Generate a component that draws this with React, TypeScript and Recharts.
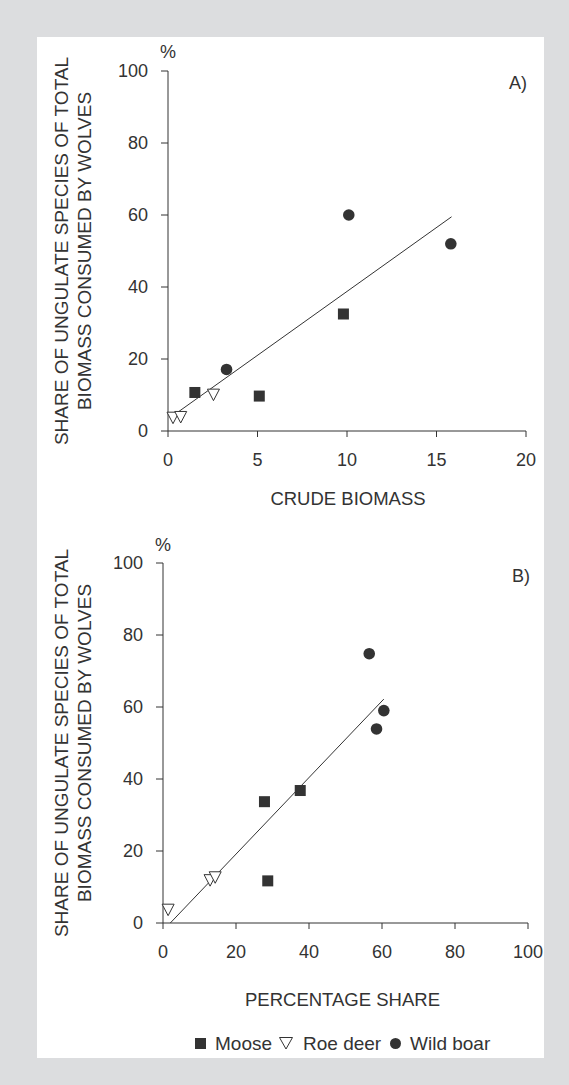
import React from 'react';
import {
    ScatterChart,
    Scatter,
    XAxis,
    YAxis,
    ReferenceLine
} from 'recharts';

// panel A: crude biomass vs share of biomass consumed
const mooseA = [{ x: 1.5, y: 10.7 }, { x: 5.1, y: 9.7 }, { x: 9.8, y: 32.5 }];
const roeA = [{ x: 0.28, y: 3.7 }, { x: 0.71, y: 3.9 }, { x: 2.54, y: 10.1 }];
const boarA = [{ x: 3.27, y: 17.1 }, { x: 10.1, y: 60 }, { x: 15.8, y: 52 }];
const fitA = [{ x: 0.43, y: 4.8 }, { x: 15.84, y: 59.5 }];
const xTicksA = [0, 5, 10, 15, 20];

// panel B: percentage share vs share of biomass consumed
const mooseB = [{ x: 27.8, y: 33.7 }, { x: 28.7, y: 11.7 }, { x: 37.6, y: 36.8 }];
const roeB = [{ x: 1.4, y: 3.7 }, { x: 12.9, y: 11.9 }, { x: 14.3, y: 12.7 }];
const boarB = [{ x: 56.5, y: 74.8 }, { x: 58.5, y: 53.9 }, { x: 60.5, y: 59 }];
const fitB = [{ x: 2.0, y: 0 }, { x: 60.5, y: 62.2 }];
const xTicksB = [0, 20, 40, 60, 80, 100];

const yTicks = [0, 20, 40, 60, 80, 100];
const yLabel = ['SHARE OF UNGULATE SPECIES OF TOTAL', 'BIOMASS CONSUMED BY WOLVES'];
const legendNames = ['Moose', 'Roe deer', 'Wild boar'];

const INK = '#333333';
const FONT = '"Liberation Sans", Arial, Helvetica, sans-serif';

const SquareMark = (p: any) => (
    <rect x={p.cx - 5.5} y={p.cy - 5.5} width={11} height={11} fill={INK} />
);
const CircleMark = (p: any) => <circle cx={p.cx} cy={p.cy} r={5.8} fill={INK} />;
const TriangleMark = (p: any) => (
    <polygon
        points={`${p.cx - 6},${p.cy - 5.5} ${p.cx + 6},${p.cy - 5.5} ${p.cx},${p.cy + 6}`}
        fill="#fff"
        stroke={INK}
        strokeWidth={1}
    />
);

const tickStyle = { fill: INK, fontSize: 18, fontFamily: FONT };

function Panel({ moose, roe, boar, fit, xMax, xTicks, height, margin }: any) {
    return (
        <ScatterChart width={569} height={height} margin={margin}>
            <XAxis
                type="number"
                dataKey="x"
                domain={[0, xMax]}
                ticks={xTicks}
                height={40}
                tickSize={6}
                tickMargin={16}
                tick={tickStyle}
                stroke={INK}
            />
            <YAxis
                type="number"
                dataKey="y"
                domain={[0, 100]}
                ticks={yTicks}
                width={60}
                tickSize={7}
                tickMargin={13}
                tick={tickStyle}
                stroke={INK}
            />
            <ReferenceLine segment={fit} stroke={INK} strokeWidth={1} />
            <Scatter data={moose} shape={SquareMark} isAnimationActive={false} />
            <Scatter data={roe} shape={TriangleMark} isAnimationActive={false} />
            <Scatter data={boar} shape={CircleMark} isAnimationActive={false} />
        </ScatterChart>
    );
}

// two-line rotated y title, centred on the plot
function YTitle({ cy }: { cy: number }) {
    return (
        <g fontSize={19} fill={INK}>
            <text transform={`translate(67.5,${cy}) rotate(-90)`} textAnchor="middle">{yLabel[0]}</text>
            <text transform={`translate(90.5,${cy}) rotate(-90)`} textAnchor="middle">{yLabel[1]}</text>
        </g>
    );
}

export default function App() {
    return (
        <div style={{ position: 'absolute', left: 0, top: 0, width: 569, height: 1085, background: '#dcdddf', fontFamily: FONT }}>
            <div style={{ position: 'absolute', left: 37, top: 37, width: 507, height: 1021, background: '#fff' }} />
            <div style={{ position: 'absolute', left: 0, top: 0 }}>
                <Panel
                    moose={mooseA}
                    roe={roeA}
                    boar={boarA}
                    fit={fitA}
                    xMax={20}
                    xTicks={xTicksA}
                    height={520}
                    margin={{ top: 71, right: 43, bottom: 49, left: 108 }}
                />
            </div>
            <div style={{ position: 'absolute', left: 0, top: 520 }}>
                <Panel
                    moose={mooseB}
                    roe={roeB}
                    boar={boarB}
                    fit={fitB}
                    xMax={100}
                    xTicks={xTicksB}
                    height={480}
                    margin={{ top: 43, right: 41, bottom: 37, left: 103 }}
                />
            </div>
            <svg width={569} height={1085} style={{ position: 'absolute', left: 0, top: 0, pointerEvents: 'none' }} fontFamily={FONT}>
                <g fill={INK}>
                    <text x={168} y={58} fontSize={18} textAnchor="middle">%</text>
                    <text x={518} y={88.5} fontSize={18} textAnchor="middle">A)</text>
                    <text x={348} y={504.6} fontSize={18.5} textAnchor="middle">CRUDE BIOMASS</text>
                    <text x={163} y={550.5} fontSize={18} textAnchor="middle">%</text>
                    <text x={521} y={581.5} fontSize={18} textAnchor="middle">B)</text>
                    <text x={342.5} y={1005.6} fontSize={18.5} textAnchor="middle">PERCENTAGE SHARE</text>
                </g>
                <YTitle cy={251} />
                <YTitle cy={743} />
                <g fill={INK} fontSize={19}>
                    <rect x={195} y={1038} width={11} height={11} fill={INK} />
                    <text x={215} y={1050}>{legendNames[0]}</text>
                    <polygon points="279.5,1037.5 292.5,1037.5 286,1049" fill="#fff" stroke={INK} strokeWidth={1} />
                    <text x={303} y={1050}>{legendNames[1]}</text>
                    <circle cx={395.5} cy={1043.5} r={5.5} fill={INK} />
                    <text x={410} y={1050}>{legendNames[2]}</text>
                </g>
            </svg>
        </div>
    );
}
